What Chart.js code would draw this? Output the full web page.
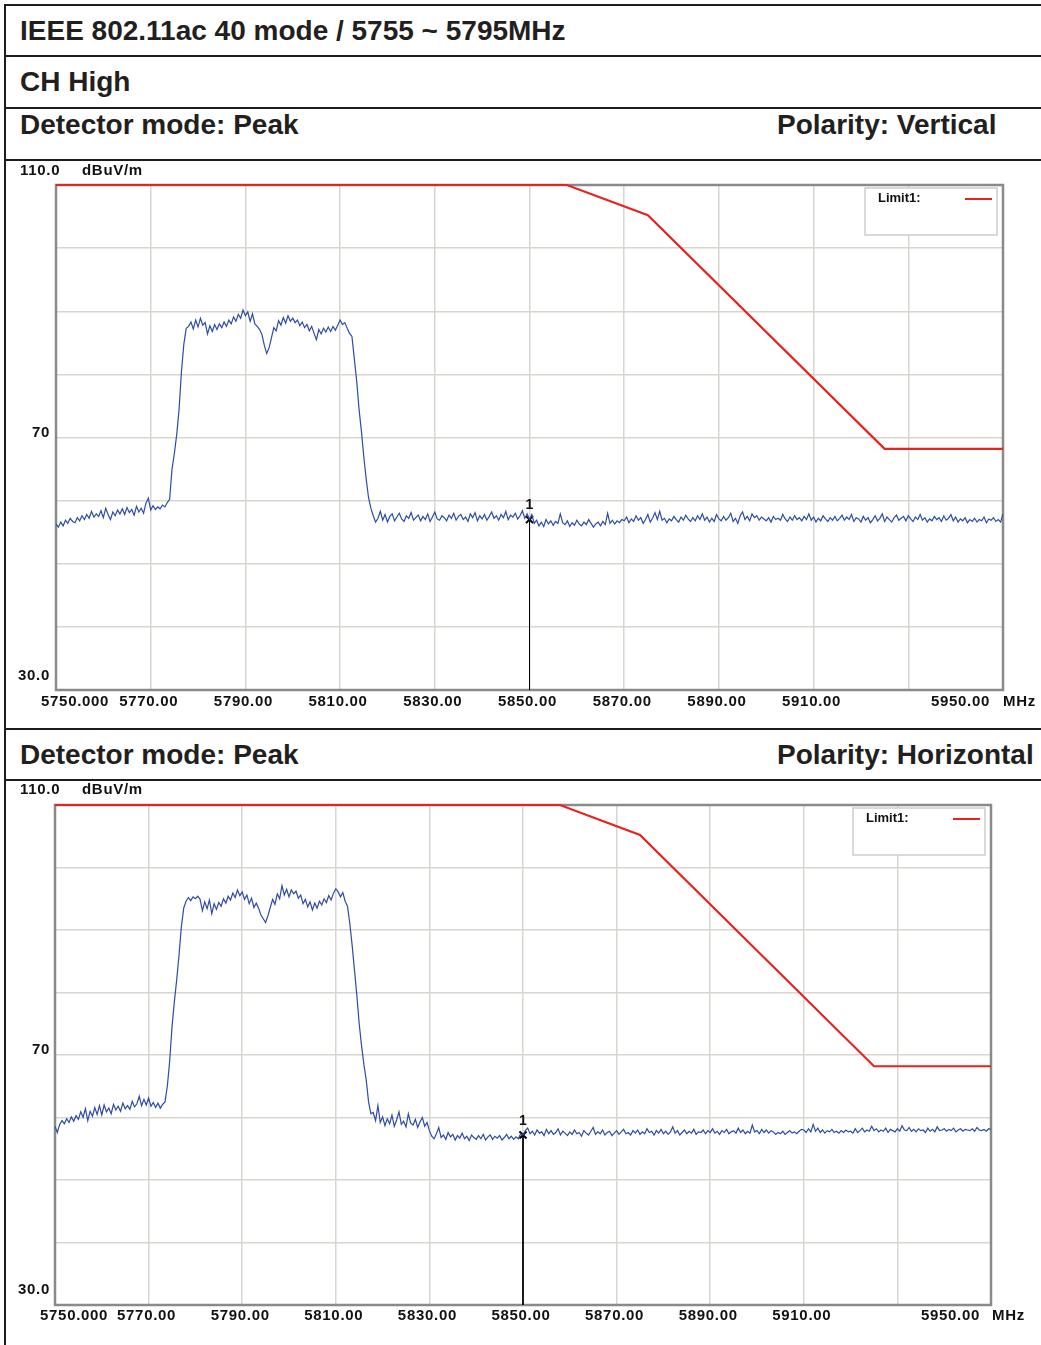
<!DOCTYPE html>
<html lang="en">
<head>
<meta charset="UTF-8">
<title>IEEE 802.11ac 40 mode / 5755 ~ 5795MHz</title>
<script src="https://cdn.jsdelivr.net/npm/chart.js"></script>
<style>
    body { margin: 0; background: #fff; width: 1041px; height: 1345px; position: relative; overflow: hidden; }
    .rule { position: absolute; left: 4px; width: 1037px; height: 2px; background: #1c1c1c; z-index: 2; }
    .vrule { position: absolute; left: 4px; top: 4px; width: 2px; height: 1341px; background: #1c1c1c; z-index: 2; }
    .cap { position: absolute; font-family: "Liberation Sans", Arial, sans-serif; font-weight: bold; font-size: 28px; line-height: 28px; color: #231f20; white-space: nowrap; }
    canvas { position: absolute; left: 7px; }
</style>
</head>
<body>
<div class="vrule"></div>
<div class="rule" style="top:4px"></div>
<div class="rule" style="top:55px"></div>
<div class="rule" style="top:107px"></div>
<div class="rule" style="top:159px"></div>
<div class="rule" style="top:728px"></div>
<div class="rule" style="top:779px"></div>

<div class="cap" style="left:20px; top:17px">IEEE 802.11ac 40 mode / 5755 ~ 5795MHz</div>
<div class="cap" style="left:20px; top:68px">CH High</div>
<div class="cap" style="left:20px; top:111px">Detector mode: Peak</div>
<div class="cap" style="left:777px; top:111px">Polarity: Vertical</div>
<div class="cap" style="left:20px; top:741px">Detector mode: Peak</div>
<div class="cap" style="left:777px; top:741px">Polarity: Horizontal</div>

<canvas id="chartV" width="1034" height="567" style="top:161px"></canvas>
<canvas id="chartH" width="1034" height="563" style="top:782px"></canvas>

<script>
// frequency axis, 0.5 MHz per trace point
const freqStart = 5750;
const freqStep = 0.5;
const freq = [];
for (let i = 0; i < 401; i++) freq.push(freqStart + i * freqStep);

// Vertical polarity trace (dBuV/m)
const levelVertical = [
    56.3, 55.8, 56.6, 56.0, 56.9, 56.4, 57.2, 56.7, 56.5, 57.3,
    56.8, 57.6, 57.0, 57.8, 57.2, 58.3, 57.4, 57.9, 57.5, 58.4,
    57.3, 58.8, 57.8, 57.0, 58.2, 57.6, 58.5, 57.9, 58.7, 57.8,
    58.9, 58.1, 58.6, 57.7, 59.1, 58.2, 58.8, 58.0, 59.6, 60.4,
    58.5, 59.2, 58.6, 59.0, 58.7, 59.3, 59.0, 59.7,
    60.2, 65.0, 67.5, 70.5, 74.5, 80.5, 84.8, 87.3,
    87.6, 88.3, 87.2, 88.6, 87.5, 88.9, 87.8, 88.2, 86.4, 87.7,
    86.8, 87.9, 87.1, 88.0, 87.4, 88.3, 87.6, 88.6, 88.0, 89.1,
    88.4, 89.5, 88.9, 90.2, 89.3, 89.9, 88.4, 89.6, 88.0, 87.6,
    87.1, 86.3, 84.6, 83.3, 84.2, 85.8, 87.4, 86.9, 88.5, 87.8,
    89.0, 88.1, 89.3, 88.4, 88.9, 88.2, 88.6, 87.7, 88.3, 87.4,
    87.9, 86.9, 87.6, 86.5, 85.5, 87.1, 86.4, 87.3, 86.7, 87.5,
    86.8, 87.6, 87.0, 87.8, 88.6, 87.9, 88.2, 87.3, 86.5, 86.0,
    82.5, 79.0, 74.5, 71.0, 67.0, 63.5, 60.5, 58.8, 57.6, 56.6,
    57.2, 58.3, 56.9, 57.8, 56.6, 57.5, 57.9, 56.8, 57.4, 58.0,
    57.1, 56.7, 57.6, 57.2, 58.1, 56.9, 57.3, 57.7, 56.8, 57.5,
    57.0, 57.9, 56.7, 57.4, 58.2, 57.1, 56.9, 57.6, 57.3, 56.8,
    57.7, 57.2, 58.0, 56.9, 57.5, 57.8, 57.0, 57.4, 56.7, 57.9,
    57.3, 58.1, 56.8, 57.6, 57.1, 57.8, 56.9, 57.5, 58.2, 57.2,
    57.6, 56.9, 57.8, 57.3, 58.3, 57.0, 57.7, 57.4, 58.0, 57.1,
    57.6, 58.4, 57.2, 57.9,
    57.0, 57.8, 56.4, 56.9, 56.0, 56.6, 55.9, 57.0, 56.3, 56.8,
    56.1, 56.7, 56.4, 57.9, 56.5, 56.2, 56.8, 55.9, 56.5, 56.1,
    56.9, 56.3, 56.0, 56.6, 56.2, 57.0, 56.4, 55.8, 56.3, 56.6,
    56.0, 56.7, 56.2, 58.0, 56.4, 56.9, 56.3, 56.8, 56.5, 57.0,
    56.8, 57.4, 56.5, 57.1, 56.7, 57.6, 56.9, 57.3, 56.4, 57.0,
    57.8, 56.6, 57.2, 58.1, 57.0, 58.3, 56.9, 57.2, 56.5, 57.1,
    56.8, 57.5, 57.0, 56.6, 57.4, 56.9, 57.7, 57.1, 56.7, 57.3,
    56.8, 57.6, 57.0, 57.9, 56.9, 57.4, 56.6, 57.2, 56.7, 57.8,
    57.1, 56.8, 57.5, 56.9, 57.3, 58.0, 56.7, 57.2, 56.4, 57.6,
    58.2, 57.0, 57.5, 56.8, 57.9, 57.3, 57.6, 56.9, 57.4, 57.1,
    56.8, 57.3, 56.6, 57.5, 57.0, 57.2, 56.9, 57.8, 57.1, 56.7,
    57.4, 56.9, 57.6, 57.0, 57.3, 56.8, 57.5, 57.0, 57.9, 56.9,
    57.4, 56.6, 57.2, 56.8, 57.6, 57.1, 56.7, 57.3, 56.9, 57.5,
    56.8, 57.2, 57.7, 56.9, 57.4, 57.0, 57.8, 56.7, 57.3, 57.1,
    56.6, 57.5, 56.9, 57.3, 56.5, 57.0, 57.6, 56.8, 57.2, 57.9,
    56.7, 57.4, 57.0, 56.6, 57.3, 57.7, 56.9, 57.2, 57.5, 56.8,
    57.6, 57.1, 56.7, 57.4, 57.0, 57.8, 56.9, 57.3, 56.6, 57.1,
    56.8, 57.5, 57.0, 57.3, 56.7, 57.6, 56.9, 57.2, 57.8, 56.8,
    57.4, 56.6, 57.1, 56.8, 57.3, 56.5, 57.0, 56.7, 57.2, 56.6,
    57.0, 56.8, 57.4, 56.5, 57.1, 56.9, 57.3, 56.7, 57.0, 56.6,
    57.9
];

// Horizontal polarity trace (dBuV/m)
const levelHorizontal = [
    58.6, 57.6, 58.9, 59.5, 59.0, 59.8, 59.2, 60.1, 59.4, 60.3,
    59.7, 60.9, 60.0, 61.4, 59.5, 61.0, 60.2, 61.6, 60.5, 61.9,
    60.4, 62.0, 60.9, 61.5, 60.6, 62.1, 61.2, 61.8, 61.0, 62.3,
    61.4, 61.9, 61.3, 62.6, 61.7, 62.2, 63.4, 61.9, 62.9, 62.0,
    63.1, 61.8, 62.4, 61.6, 62.3, 61.5, 62.1, 62.5,
    65.0, 69.0, 74.5, 78.5, 82.0, 86.0, 90.5, 93.5,
    94.6, 95.2, 94.7, 95.3, 95.0, 95.4, 94.9, 93.1, 94.5, 93.4,
    94.8, 92.6, 94.2, 93.3, 94.4, 93.8, 95.0, 94.3, 95.4, 94.8,
    95.9, 95.2, 96.4, 95.5, 96.1, 94.9, 95.6, 94.2, 95.1, 93.6,
    94.3, 93.5, 92.4, 91.8, 91.2, 92.3, 93.6, 94.9, 94.1, 95.8,
    95.0, 97.1, 95.6, 96.5, 95.3, 96.4, 95.8, 96.2, 95.1, 95.6,
    94.2, 94.9, 93.7, 94.5, 93.2, 94.3, 93.5, 94.6, 94.0, 95.0,
    94.4, 95.5, 94.8, 95.9, 96.6, 96.1, 95.3, 96.0, 94.6, 93.8,
    91.0, 87.5, 83.5, 79.5, 75.0, 71.5, 68.5, 66.0, 62.5, 60.6,
    60.8, 59.5, 61.9, 59.2, 60.1, 58.7, 59.8, 59.0, 60.4, 58.6,
    59.6, 60.9, 58.9, 59.4, 58.5, 60.6, 59.1, 58.8, 59.7, 58.4,
    59.3, 60.0, 58.6, 59.2,
    57.9, 57.0, 56.6, 57.4, 58.4, 56.8, 57.2, 56.5, 57.6, 56.9,
    57.3, 56.4, 57.1, 56.7, 57.5, 56.6, 57.0, 56.3, 57.2, 56.8,
    56.5, 57.1, 56.6, 57.3, 56.4, 56.9, 57.2, 56.5, 57.0, 56.7,
    57.1, 56.4, 56.8, 57.3, 56.6, 57.0, 56.5, 56.9, 56.6, 57.4,
    57.2, 57.9, 58.3, 57.4, 57.8, 57.2, 58.0, 57.5, 57.7, 57.1,
    58.1, 57.4, 57.9, 57.3, 57.6, 58.2, 57.2, 57.8, 57.5, 57.1,
    57.7, 57.3, 58.0, 57.4, 57.6, 57.0, 57.9, 57.5, 57.2, 57.8,
    58.4, 57.3, 57.7, 57.4, 58.0, 57.2, 57.6, 57.8, 57.1, 57.5,
    57.9, 57.3, 57.7, 58.1, 57.4, 57.6, 57.2, 57.9, 57.5, 58.0,
    57.3, 57.7, 57.4, 58.2, 57.6, 57.8, 57.2, 57.9, 57.5, 58.1,
    57.4, 57.8, 57.3, 57.7, 58.5, 57.5, 57.9, 57.2, 57.6, 58.0,
    57.4, 57.8, 57.5, 58.1, 57.3, 57.7, 57.6, 58.0, 57.4, 57.9,
    57.6, 58.2, 57.5, 57.8, 57.3, 57.9, 57.6, 58.1, 57.4, 57.7,
    57.9, 57.5, 58.3, 57.6, 58.0, 57.4, 57.8, 57.5, 58.8, 57.7,
    57.9, 57.4, 58.1, 57.6, 58.0, 57.5, 57.9, 57.7, 57.3, 57.6,
    57.4, 57.8, 57.3, 57.6, 57.9, 57.5, 57.7, 57.4, 57.8, 58.1,
    58.0, 57.6, 58.2, 57.7, 58.9, 57.8, 58.3, 57.6, 58.0, 57.5,
    57.9, 57.7, 58.1, 57.6, 57.8, 57.5, 57.9, 57.6, 58.0, 57.7,
    57.8, 57.5, 58.2, 57.6, 57.9, 58.3, 57.7, 58.0, 57.8, 58.6,
    57.9, 58.2, 57.7, 58.0, 57.8, 58.3, 57.6, 58.1, 57.9, 57.7,
    58.2, 57.8, 58.7, 58.0, 57.9, 58.4, 57.8, 58.1, 57.7, 58.2,
    57.9, 58.0, 57.6, 58.3, 57.8, 58.1, 57.7, 58.5, 57.9, 58.0,
    58.2, 57.8, 58.1, 57.9, 58.3, 57.7, 58.0, 58.2, 57.8, 58.1,
    58.0, 57.9, 58.2, 57.8, 58.4, 58.0, 57.9, 58.1, 57.8, 58.2,
    58.1
];

// Limit1 (FCC 15.407 band-edge mask, clipped at 110)
const limitFreq = [5750, 5857.9, 5875, 5925, 5950];
const limitLevel = [110, 110, 105.2, 68.2, 68.2];

// marker 1
const markerFreq = 5850;
const markerVertical = 57.0;
const markerHorizontal = 57.2;

// axis text
const xLabelValues = [5750, 5770, 5790, 5810, 5830, 5850, 5870, 5890, 5910, 5950];
const xLabelText = ['5750.000', '5770.00', '5790.00', '5810.00', '5830.00', '5850.00', '5870.00', '5890.00', '5910.00', '5950.00'];
const yLabelValues = [110, 70, 30];
const yLabelText = ['110.0', '70', '30.0'];

const traceColor = '#2d4ca6';
const limitColor = '#e8231f';
const gridColor = '#d9d6cf';
const labelFont = 'bold 15px "Liberation Sans", Arial, sans-serif';

function toPoints(xs, ys) {
    return xs.map((x, i) => ({ x: x, y: ys[i] }));
}

// frame, axis text, legend box and marker label
const analyzerDecor = {
    id: 'analyzerDecor',
    beforeDatasetsDraw(chart) {
        const { ctx, chartArea: a } = chart;
        ctx.save();
        ctx.strokeStyle = '#8a8a8a';
        ctx.lineWidth = 2.5;
        ctx.strokeRect(a.left, a.top, a.right - a.left, a.bottom - a.top);
        ctx.restore();
    },
    afterDatasetsDraw(chart, args, opts) {
        const { ctx, chartArea: a } = chart;
        const xs = chart.scales.x;
        const ys = chart.scales.y;
        ctx.save();
        ctx.fillStyle = '#111';
        ctx.font = labelFont;
        ctx.letterSpacing = '0.7px';
        ctx.textBaseline = 'middle';

        // x labels
        const xy = a.bottom + opts.xLabelDy;
        xLabelValues.forEach((v, i) => {
            const px = xs.getPixelForValue(v);
            if (i === 0) {
                ctx.textAlign = 'left';
                ctx.fillText(xLabelText[i], px - 15, xy);
            } else if (i === xLabelValues.length - 1) {
                ctx.textAlign = 'right';
                ctx.fillText(xLabelText[i], px - opts.lastDx, xy);
            } else {
                ctx.textAlign = 'center';
                ctx.fillText(xLabelText[i], px - 2, xy);
            }
        });
        ctx.textAlign = 'left';
        ctx.fillText('MHz', a.right + opts.mhzDx, xy);

        // y labels
        yLabelValues.forEach((v, i) => {
            const py = ys.getPixelForValue(v);
            if (i === 0) {
                ctx.textAlign = 'left';
                ctx.fillText(yLabelText[i], 13, py - opts.yLabelDy);
                ctx.fillText('dBuV/m', 75, py - opts.yLabelDy);
            } else if (i === yLabelValues.length - 1) {
                ctx.textAlign = 'right';
                ctx.fillText(yLabelText[i], 43, py - opts.yLabelDy);
            } else {
                ctx.textAlign = 'right';
                ctx.fillText(yLabelText[i], 43, py - 5);
            }
        });
        ctx.letterSpacing = '0px';

        // legend box
        const bx = a.right - 138, by = a.top + 3, bw = 132, bh = 47;
        ctx.fillStyle = '#fff';
        ctx.fillRect(bx, by, bw, bh);
        ctx.strokeStyle = '#cfcdc7';
        ctx.lineWidth = 1.5;
        ctx.strokeRect(bx, by, bw, bh);
        ctx.fillStyle = '#111';
        ctx.font = 'bold 13px "Liberation Sans", Arial, sans-serif';
        ctx.textAlign = 'left';
        ctx.fillText('Limit1:', bx + 13, by + 10);
        ctx.strokeStyle = limitColor;
        ctx.lineWidth = 2;
        ctx.beginPath();
        ctx.moveTo(bx + bw - 32, by + 11);
        ctx.lineTo(bx + bw - 5, by + 11);
        ctx.stroke();

        // marker number
        const mx = xs.getPixelForValue(markerFreq);
        const my = ys.getPixelForValue(opts.markerLevel);
        ctx.fillStyle = '#111';
        ctx.font = 'bold 14px "Liberation Sans", Arial, sans-serif';
        ctx.textAlign = 'center';
        ctx.fillText('1', mx, my - 14);
        ctx.restore();
    }
};

function makeChart(id, levels, markerLevel, padding, decor) {
    decor.markerLevel = markerLevel;
    return new Chart(document.getElementById(id).getContext('2d'), {
        type: 'line',
        data: {
            datasets: [{
                label: 'Trace',
                data: toPoints(freq, levels),
                borderColor: traceColor,
                borderWidth: 1.2,
                pointRadius: 0,
                tension: 0
            }, {
                label: 'Limit1',
                data: toPoints(limitFreq, limitLevel),
                borderColor: limitColor,
                borderWidth: 2.2,
                pointRadius: 0,
                clip: false
            }, {
                label: 'Marker 1',
                data: [{ x: markerFreq, y: markerLevel }, { x: markerFreq, y: 30 }],
                borderColor: '#000',
                borderWidth: 1,
                pointStyle: 'crossRot',
                pointRadius: [5, 0],
                pointBorderColor: '#000',
                pointBorderWidth: 2
            }]
        },
        options: {
            responsive: false,
            animation: false,
            events: [],
            layout: { padding: padding, autoPadding: false },
            plugins: {
                legend: { display: false },
                tooltip: { enabled: false },
                analyzerDecor: decor
            },
            scales: {
                x: {
                    type: 'linear',
                    min: 5750,
                    max: 5950,
                    ticks: { display: false, stepSize: 20 },
                    grid: { color: gridColor, lineWidth: 1.5, drawTicks: false },
                    border: { display: false }
                },
                y: {
                    min: 30,
                    max: 110,
                    ticks: { display: false, stepSize: 10 },
                    grid: { color: gridColor, lineWidth: 1.5, drawTicks: false },
                    border: { display: false }
                }
            }
        },
        plugins: [analyzerDecor]
    });
}

makeChart('chartV', levelVertical, markerVertical,
    { left: 49, right: 38, top: 24, bottom: 38 },
    { xLabelDy: 12, lastDx: 13, mhzDx: 0, yLabelDy: 14 });
makeChart('chartH', levelHorizontal, markerHorizontal,
    { left: 48, right: 50, top: 23, bottom: 40 },
    { xLabelDy: 11, lastDx: 11, mhzDx: 1, yLabelDy: 15 });
</script>
</body>
</html>
